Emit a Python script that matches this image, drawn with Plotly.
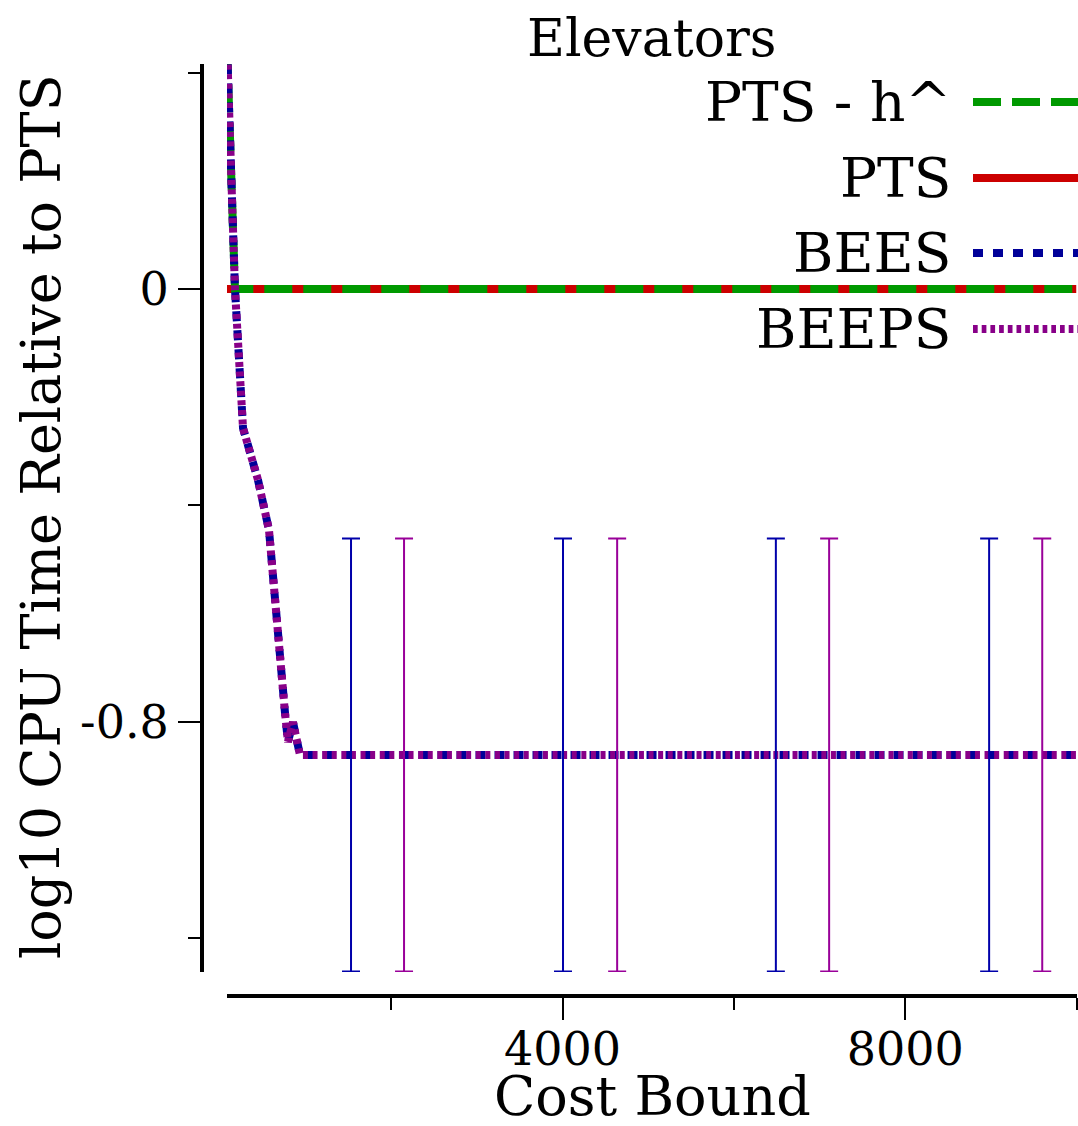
import plotly.graph_objects as go

W, H = 1078, 1126

# ---- data ----
pts_x = [82, 10000]
pts_y = [0.0, 0.0]

pts_h_x = [82, 175, 10000]
pts_h_y = [0.45, 0.0, 0.0]

bees_x = [82, 175, 269, 444, 572, 619, 665, 712, 759, 794, 852, 934, 1530, 4005, 6490, 8980, 10000]
bees_y = [0.45, 0.0, -0.257, -0.353, -0.445, -0.538, -0.630, -0.722, -0.783, -0.837, -0.800,
          -0.861, -0.861, -0.861, -0.861, -0.861, -0.861]

beeps_x = [82, 175, 269, 444, 572, 619, 665, 712, 759, 794, 852, 934, 2149, 4637, 7112, 9600, 10000]
beeps_y = [0.45, 0.0, -0.257, -0.353, -0.445, -0.538, -0.630, -0.722, -0.783, -0.837, -0.800,
           -0.861, -0.861, -0.861, -0.861, -0.861, -0.861]

bees_err_x = [1530, 4005, 6490, 8980]
bees_err_y = [-0.861, -0.861, -0.861, -0.861]
bees_err = [0.4, 0.4, 0.4, 0.4]

beeps_err_x = [2149, 4637, 7112, 9600]
beeps_err_y = [-0.861, -0.861, -0.861, -0.861]
beeps_err = [0.4, 0.4, 0.4, 0.4]

x_major = [4000, 8000]
x_major_text = ["4000", "8000"]
x_minor = [2000, 6000, 10000]
y_major = [0, -0.8]
y_major_text = ["0", "-0.8"]
y_minor = [0.4, -0.4, -1.2]

names = ["PTS - h^", "PTS", "BEES", "BEEPS"]

# ---- styles ----
FONT = "DejaVu Serif"
GREEN = "#009900"
RED = "#cc0000"
BLUE = "#000099"
PURPLE = "#880088"
LW = 8
dash_green = "28px,11px"
dash_blue = "10px,9px"
dash_purple = "5px,4.6px"


def fx(p):
    return p / W


def fy(p):
    return 1 - p / H


fig = go.Figure()
fig.add_trace(go.Scatter(x=pts_x, y=pts_y, mode="lines", name=names[1],
                         line=dict(color=RED, width=LW), showlegend=False))
fig.add_trace(go.Scatter(x=pts_h_x, y=pts_h_y, mode="lines", name=names[0],
                         line=dict(color=GREEN, width=LW, dash=dash_green), showlegend=False))
fig.add_trace(go.Scatter(x=bees_x, y=bees_y, mode="lines", name=names[2],
                         line=dict(color=BLUE, width=LW, dash=dash_blue), showlegend=False))
fig.add_trace(go.Scatter(x=beeps_x, y=beeps_y, mode="lines", name=names[3],
                         line=dict(color=PURPLE, width=LW, dash=dash_purple), showlegend=False))
fig.add_trace(go.Scatter(x=bees_err_x, y=bees_err_y, mode="markers", name=names[2],
                         marker=dict(size=1, color="rgba(0,0,0,0)"),
                         error_y=dict(type="data", array=bees_err, color="#0000aa",
                                      thickness=2, width=9),
                         showlegend=False))
fig.add_trace(go.Scatter(x=beeps_err_x, y=beeps_err_y, mode="markers", name=names[3],
                         marker=dict(size=1, color="rgba(0,0,0,0)"),
                         error_y=dict(type="data", array=beeps_err, color="#990099",
                                      thickness=2, width=9),
                         showlegend=False))

axis_common = dict(showline=True, linewidth=4, linecolor="black", ticks="outside",
                   ticklen=22, tickwidth=2, tickcolor="black", showgrid=False,
                   zeroline=False, tickfont=dict(family=FONT, size=46, color="black"))

fig.update_layout(
    width=W, height=H,
    margin=dict(l=0, r=0, t=0, b=0),
    paper_bgcolor="white", plot_bgcolor="white",
    font=dict(family=FONT, color="black"),
    xaxis=dict(domain=[fx(227), fx(1076.5)], range=[82, 10000], anchor="free",
               position=fy(995.5), tickmode="array", tickvals=x_major, ticktext=x_major_text,
               ticklabelstandoff=-10,
               minor=dict(tickmode="array", tickvals=x_minor, ticks="outside", ticklen=12,
                          tickwidth=2, tickcolor="black"),
               **axis_common),
    yaxis=dict(domain=[fy(972), fy(64)], range=[-1.262, 0.4157], anchor="free",
               position=fx(202), tickmode="array", tickvals=y_major, ticktext=y_major_text,
               minor=dict(tickmode="array", tickvals=y_minor, ticks="outside", ticklen=12,
                          tickwidth=2, tickcolor="black"),
               **axis_common),
    showlegend=False,
)

annotations = [
    dict(text="Elevators", x=fx(652), y=fy(38), xref="paper", yref="paper",
         xanchor="center", yanchor="middle", showarrow=False,
         font=dict(family=FONT, size=52, color="black")),
    dict(text="Cost Bound", x=fx(652), y=fy(1096), xref="paper", yref="paper",
         xanchor="center", yanchor="middle", showarrow=False,
         font=dict(family=FONT, size=54, color="black")),
    dict(text="log10 CPU Time Relative to PTS", x=fx(42), y=fy(517), xref="paper", yref="paper",
         xanchor="center", yanchor="middle", showarrow=False, textangle=-90,
         font=dict(family=FONT, size=54, color="black")),
]

legend_rows = [102, 178, 253, 329]
legend_styles = [(GREEN, dash_green), (RED, "solid"), (BLUE, "10px,10px"), (PURPLE, "4.7px,4px")]
shapes = []
for name, row, (col, dsh) in zip(names, legend_rows, legend_styles):
    annotations.append(dict(text=name, x=fx(953), y=fy(row), xref="paper", yref="paper",
                            xanchor="right", yanchor="middle", showarrow=False,
                            font=dict(family=FONT, size=55, color="black")))
    shapes.append(dict(type="line", xref="paper", yref="paper", x0=fx(973), x1=fx(1080),
                       y0=fy(row), y1=fy(row), line=dict(color=col, width=LW, dash=dsh)))

fig.update_layout(annotations=annotations, shapes=shapes)

fig.write_html("out.html")
